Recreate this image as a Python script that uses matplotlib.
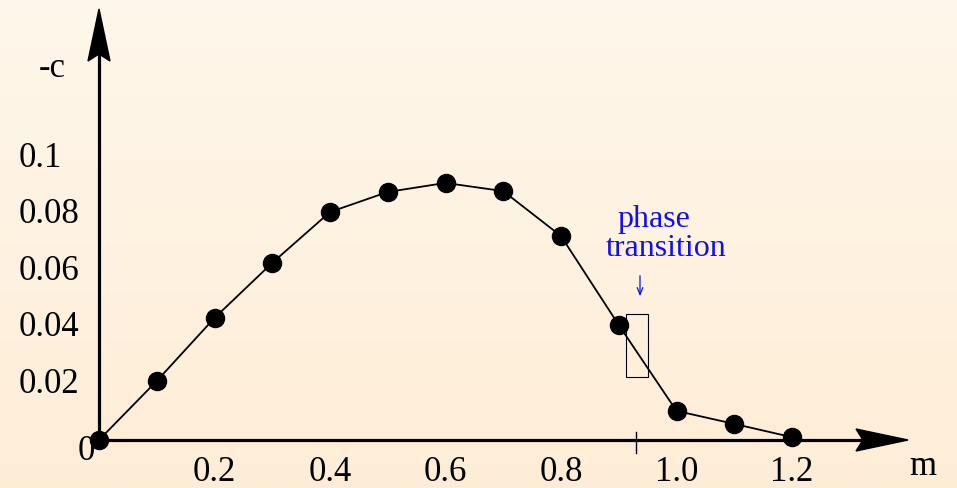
import numpy as np
import matplotlib
matplotlib.use("Agg")
import matplotlib.pyplot as plt
from matplotlib.patches import Polygon, Rectangle

# ---- data ----
m_values = [0.0, 0.1, 0.2, 0.3, 0.4, 0.5, 0.6, 0.7, 0.8, 0.9, 1.0, 1.1, 1.2]
neg_c = [0.0, 0.0209, 0.0432, 0.0627, 0.0807, 0.0878, 0.0910, 0.0881, 0.0722, 0.0407, 0.0103, 0.0057, 0.0010]
x_ticks = [0.2, 0.4, 0.6, 0.8, 1.0, 1.2]
x_tick_labels = ["0.2", "0.4", "0.6", "0.8", "1.0", "1.2"]
y_ticks = [0.02, 0.04, 0.06, 0.08, 0.1]
y_tick_labels = ["0.02", "0.04", "0.06", "0.08", "0.1"]
transition_m = 0.93
box_m = (0.912, 0.951)
box_c = (0.0223, 0.0446)

W, H = 957, 489
fig = plt.figure(figsize=(W / 100, H / 100), dpi=100)
ax = fig.add_axes([0, 0, 1, 1])

# pixel mapping: m=0 -> x=99, 0.1 in m -> 57.75 px ; c=0 -> y=441, 0.1 in c -> 282.5 px
x0, sx = 99.0, 577.5
y0, sy = 441.0, 2825.0
ax.set_xlim(-x0 / sx, (W - x0) / sx)
ax.set_ylim(-(H - y0) / sy, y0 / sy)
ax.axis("off")

# background gradient
top = np.array([255, 247, 235]) / 255
bot = np.array([254, 237, 214]) / 255
t = np.linspace(0, 1, 256)[:, None]
grad = (top[None, :] * (1 - t) + bot[None, :] * t)[:, None, :]
ax.imshow(grad, extent=[0, 1, 0, 1], transform=ax.transAxes, aspect="auto", zorder=0)

serif = ["Liberation Serif", "DejaVu Serif"]
fs = 25

def px_to_m(px):
    return (px - x0) / sx

def py_to_c(py):
    return (y0 - py) / sy

# axes lines
x_tip = px_to_m(908)
y_tip = py_to_c(10)
ax.plot([0, px_to_m(870)], [0, 0], color="black", lw=2.3, zorder=2, solid_capstyle="butt")
ax.plot([0, 0], [0, py_to_c(50)], color="black", lw=2.3, zorder=2, solid_capstyle="butt")

# arrowheads (notched)
hl, hw, notch = 52, 11, 7
ax.add_patch(Polygon([(x_tip, 0), (px_to_m(908 - hl), py_to_c(441 - hw)),
                      (px_to_m(908 - hl + notch), 0), (px_to_m(908 - hl), py_to_c(441 + hw))],
                     closed=True, color="black", zorder=3))
ax.add_patch(Polygon([(0, y_tip), (px_to_m(99 - hw), py_to_c(10 + hl)),
                      (0, py_to_c(10 + hl - notch)), (px_to_m(99 + hw), py_to_c(10 + hl))],
                     closed=True, color="black", zorder=3))

# data
ax.plot(m_values, neg_c, color="black", lw=1.3, marker="o", markersize=13, zorder=4)

# tick labels
for xv, lab in zip(x_ticks, x_tick_labels):
    ax.text(xv, py_to_c(473), lab, ha="center", va="center", fontsize=fs, family=serif)
for yv, lab in zip(y_ticks, y_tick_labels):
    ax.text(px_to_m(19), yv, lab, ha="left", va="center", fontsize=fs, family=serif)
ax.text(px_to_m(86), py_to_c(452), "0", ha="center", va="center", fontsize=fs, family=serif)

# axis labels
ax.text(px_to_m(52), py_to_c(77), "-c", ha="center", va="baseline", fontsize=fs, family=serif)
ax.text(px_to_m(923), py_to_c(475), "m", ha="center", va="baseline", fontsize=fs, family=serif)

# transition tick
ax.plot([transition_m, transition_m], [py_to_c(433), py_to_c(454)], color="black", lw=1.0, zorder=2)

# box
ax.add_patch(Rectangle((box_m[0], box_c[0]), box_m[1] - box_m[0], box_c[1] - box_c[0],
                       fill=False, edgecolor="black", lw=0.8, zorder=3))

# annotation
ax.text(px_to_m(654), py_to_c(220), "phase", ha="center", va="center", fontsize=23,
        family=serif, color="#1010ee")
ax.text(px_to_m(666), py_to_c(249), "transition", ha="center", va="center", fontsize=23,
        family=serif, color="#1010ee")
ax.annotate("", xy=(px_to_m(640), py_to_c(300)), xytext=(px_to_m(640), py_to_c(274)),
            arrowprops=dict(arrowstyle="->,head_length=0.5,head_width=0.2", color="#1010ee", lw=0.9))

fig.savefig("out.png", dpi=100)
